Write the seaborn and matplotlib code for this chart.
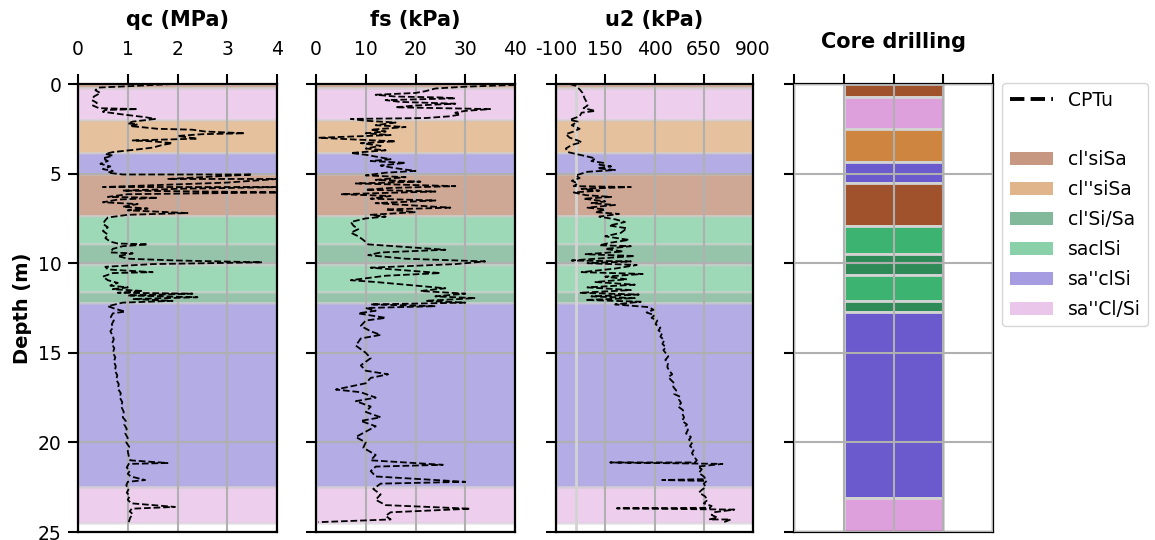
import matplotlib
matplotlib.use("Agg")
import matplotlib.pyplot as plt
from matplotlib.patches import Patch
from matplotlib.lines import Line2D
import seaborn as sns

sns.set_style("ticks")
plt.rcParams["font.family"] = ["DejaVu Sans"]
plt.rcParams["axes.axisbelow"] = "line"
plt.rcParams["axes.unicode_minus"] = False
for key in ["text.color", "axes.labelcolor", "xtick.color", "ytick.color",
            "xtick.labelcolor", "ytick.labelcolor"]:
    plt.rcParams[key] = "black"

# Soil classes and their colours
soil_names = ["cl'siSa", "cl''siSa", "cl'Si/Sa", "saclSi", "sa''clSi", "sa''Cl/Si"]
soil_colors = ["sienna", "peru", "seagreen", "mediumseagreen", "slateblue", "plum"]

# Layering interpreted from the CPTu profile (depths in m)
cpt_layer_top = [0.0, 0.2, 2.0, 3.85, 5.0, 7.35, 8.95, 10.1, 11.6, 12.2, 22.5]
cpt_layer_bottom = [0.2, 2.0, 3.85, 5.0, 7.35, 8.95, 10.1, 11.6, 12.2, 22.5, 24.5]
cpt_layer_soil = [0, 5, 1, 4, 0, 3, 2, 3, 2, 4, 5]

# Layering logged from the core drilling (depths in m)
core_layer_top = [0.0, 0.7, 2.5, 4.37, 5.55, 7.9, 9.48, 10.65, 12.1, 12.75, 23.08]
core_layer_bottom = [0.7, 2.5, 4.37, 5.55, 7.9, 9.48, 10.65, 12.1, 12.75, 23.08, 25.0]
core_layer_soil = [0, 5, 1, 4, 0, 3, 2, 3, 2, 4, 5]

# CPTu cone resistance qc (MPa) versus depth (m)
qc_depth = [0.0, 0.1, 0.2, 0.35, 0.5, 0.7, 0.9, 1.05, 1.2, 1.35, 1.4, 1.45, 1.55, 1.7, 1.85,
            1.95, 2.1, 2.2, 2.25, 2.35, 2.4, 2.5, 2.55, 2.65, 2.75, 2.8, 2.9, 3.05, 3.15, 3.2,
            3.3, 3.4, 3.55, 3.65, 3.8, 3.9, 4.0, 4.15, 4.3, 4.45, 4.6, 4.75, 4.85, 4.95, 5.05,
            5.05, 5.2, 5.3, 5.3, 5.5, 5.75, 5.75, 5.85, 5.95, 6.05, 6.15, 6.3, 6.35, 6.45, 6.6,
            6.7, 6.85, 6.95, 7.05, 7.2, 7.3, 7.45, 7.6, 7.8, 8.0, 8.2, 8.4, 8.6, 8.8, 8.9,
            8.95, 9.05, 9.2, 9.4, 9.45, 9.6, 9.75, 9.85, 9.95, 10.05, 10.2, 10.35, 10.5, 10.55,
            10.75, 10.95, 11.1, 11.25, 11.35, 11.45, 11.55, 11.65, 11.7, 11.8, 11.9, 12.0, 12.1,
            12.2, 12.4, 12.55, 12.7, 12.8,
            13.0, 13.2, 13.4, 13.6, 13.8, 14.0, 14.25, 14.5,
            14.75, 15.0, 15.25, 15.5, 15.75, 16.0, 16.25, 16.5, 16.75, 17.0, 17.25, 17.5,
            17.75, 18.0, 18.3, 18.6, 18.8, 19.0, 19.25, 19.5, 19.75, 20.0, 20.25, 20.5, 20.75,
            21.0, 21.15, 21.2, 21.4, 21.6, 21.75, 21.9, 22.1, 22.2, 22.4, 22.6, 22.8, 23.0,
            23.2, 23.4, 23.6, 23.7, 23.85, 24.0, 24.2, 24.45]
qc_value = [1.9, 1.2, 0.4, 0.35, 0.45, 0.32, 0.28, 0.38, 0.3, 0.42, 1.2, 0.55, 0.5, 0.9, 1.35,
            1.55, 1.1, 1.0, 1.2, 1.05, 1.25, 1.6, 2.3, 2.55, 3.35, 2.5, 2.0, 2.4, 1.1, 1.5,
            1.9, 1.7, 1.5, 1.2, 0.7, 0.55, 0.7, 0.5, 0.6, 0.45, 0.65, 0.5, 0.7, 0.6, 0.9,
            3.5, 2.5, 1.8, 4.0, 3.0, 0.5, 4.1, 2.0, 0.9, 4.1, 1.0, 0.6, 1.6, 0.8, 0.5,
            1.2, 0.9, 1.4, 1.0, 2.2, 1.0, 0.6, 0.55, 0.5, 0.6, 0.5, 0.6, 0.55, 0.65, 0.8,
            1.4, 0.9, 0.7, 0.65, 1.1, 0.8, 1.0, 2.0, 3.7, 1.5, 0.55, 0.6, 1.5, 0.7,
            0.5, 0.6, 0.8, 0.65, 1.0, 0.7, 1.3, 0.8, 2.3, 1.0, 2.4, 1.1, 1.9,
            0.9, 0.6, 0.75, 0.95, 0.7,
            0.66, 0.72, 0.68, 0.7, 0.65, 0.69, 0.72, 0.68,
            0.73, 0.7, 0.75, 0.72, 0.76, 0.74, 0.79, 0.77, 0.82, 0.8, 0.86, 0.84,
            0.89, 0.87, 0.92, 0.9, 0.96, 0.93, 0.98, 0.95, 1.0, 0.97, 1.03, 1.0, 1.02,
            1.05, 1.8, 1.02, 0.98, 1.04, 1.0, 1.06, 1.35, 1.0, 0.97, 1.02, 0.98, 1.04,
            1.0, 1.07, 1.95, 1.08, 1.04, 1.1, 1.05, 1.02]

# CPTu sleeve friction fs (kPa) versus depth (m)
fs_depth = [0.05, 0.15, 0.25, 0.4, 0.5, 0.6, 0.7, 0.75, 0.8, 0.9, 1.0, 1.1, 1.2, 1.3, 1.4,
            1.5, 1.6, 1.7, 1.8, 1.9, 1.95, 2.05, 2.15, 2.3, 2.4, 2.55, 2.65, 2.75, 2.85, 3.0,
            3.1, 3.2, 3.3, 3.45, 3.6, 3.7, 3.85, 3.95, 4.05, 4.2, 4.3, 4.4, 4.55, 4.7, 4.85,
            4.95, 5.1, 5.2, 5.35, 5.45, 5.55, 5.7, 5.8, 5.9, 6.0, 6.15, 6.25, 6.4, 6.5, 6.65,
            6.9, 7.0, 7.15, 7.3, 7.4, 7.5, 7.7, 7.9, 8.1, 8.3, 8.5, 8.7, 8.95, 9.25, 9.4,
            9.55, 9.75, 9.9, 10.05, 10.25, 10.55, 10.7, 10.95, 11.05, 11.2, 11.4, 11.55, 11.7,
            11.85, 11.95, 12.1, 12.2, 12.3, 12.4, 12.5, 12.65, 12.8, 13.05, 13.2, 13.5, 13.8,
            14.0, 14.2, 14.6, 15.0, 15.3, 15.7, 16.0, 16.2, 16.4, 16.7, 17.05, 17.2, 17.5,
            17.7, 18.0, 18.3, 18.6, 18.8, 19.1, 19.4, 19.7, 20.0, 20.3, 20.7, 21.0, 21.25,
            21.35, 21.6, 21.9, 22.2, 22.3, 22.6, 22.9, 23.2, 23.5, 23.7, 23.9, 24.1, 24.3, 24.45]
fs_value = [40, 30, 24, 22, 20, 12, 16, 25, 28, 14, 17, 28, 20, 16, 35,
            30, 28, 29, 27, 22, 7, 10, 16, 12, 18, 11, 14, 10, 15, 0.5,
            8, 16, 9, 13, 10, 14, 7, 10, 12, 15, 11, 18, 13, 16, 20,
            14, 10, 18, 12, 21, 8, 28, 15, 10, 24, 5, 15, 11, 24, 12,
            27, 14, 20, 11, 14, 10, 7, 7.5, 8.5, 7, 8.5, 9.5, 10.5, 26, 13,
            10.5, 18, 34, 28, 11, 25, 14, 7, 12, 18, 26, 21, 30,
            24, 32, 22, 30, 11, 24, 10, 12, 8.5, 14, 10, 9, 11,
            13, 9, 8, 10, 11, 9, 10, 14.5, 11, 10, 4, 9, 12,
            8, 11, 10, 13, 9, 12, 10, 8, 10, 9.5, 12, 11, 25.5,
            12, 11, 12, 30, 13, 11.5, 13, 12, 14, 31, 15, 14, 15, 0.5]

# CPTu pore pressure u2 (kPa) versus depth (m)
u2_depth = [0.0, 0.1, 0.3, 0.5, 0.8, 1.0, 1.2, 1.35, 1.5, 1.6, 1.8, 2.0, 2.1, 2.3, 2.5,
            2.65, 2.8, 3.0, 3.15, 3.25, 3.4, 3.6, 3.8, 3.95, 4.05, 4.15, 4.3, 4.4, 4.5, 4.6,
            4.7, 4.8, 4.9, 5.1, 5.25, 5.4, 5.55, 5.7, 5.75, 5.85, 5.95, 6.05, 6.2, 6.3, 6.4,
            6.55, 6.65, 6.75, 6.9, 7.0, 7.15, 7.25, 7.4, 7.55, 7.7, 7.9, 8.05, 8.3, 8.5, 8.7,
            8.85, 9.0, 9.05, 9.2, 9.35, 9.5, 9.6, 9.75, 9.85, 9.9, 10.0, 10.1, 10.3, 10.5,
            10.6, 10.75, 10.9, 11.05, 11.2, 11.35, 11.5, 11.65, 11.75, 11.85, 11.95, 12.05,
            12.15, 12.3, 12.45, 12.6, 12.75, 12.9, 13.05, 13.2, 13.4, 13.6, 13.75, 13.9,
            14.1, 14.3, 14.5, 14.7, 14.85, 15.0, 15.2, 15.4, 15.6, 15.8, 16.0, 16.2, 16.35,
            16.5, 16.7, 16.9, 17.1, 17.3, 17.45, 17.6, 17.8, 18.0, 18.2, 18.4, 18.6, 18.8,
            19.0, 19.1, 19.3, 19.5, 19.7, 19.85, 20.0, 20.2, 20.4, 20.6, 20.8, 21.0, 21.12,
            21.12, 21.2, 21.35, 21.5, 21.7, 21.9, 22.05, 22.1, 22.15, 22.3, 22.5, 22.65, 22.8,
            23.0, 23.2, 23.4, 23.55, 23.65, 23.68, 23.75, 23.9, 24.05, 24.2, 24.3, 24.3, 24.45]
u2_value = [-30, 0, 20, 35, 45, 55, 60, 40, 100, 30, 20, -30, 10, -20, 20,
            -10, -50, -30, 10, 30, -20, -50, -40, 20, 60, 100, 80, 140, 120, 180,
            110, 200, 60, 0, 20, -20, 10, -10, 280, 30, 120, -10, 50, 180, 40,
            150, 80, 200, 60, 150, 100, 220, 120, 200, 250, 170, 260, 230, 150, 270,
            180, 120, 280, 150, 240, 50, 300, 100, -20, 280, 60, 310, 200, 30,
            340, 150, 260, 100, 300, 60, 280, 20, 320, 80, 300, 50,
            330, 200, 370, 395, 360, 400, 385, 414, 405, 430, 420, 439,
            430, 450, 440, 458, 445, 456, 470, 455, 468, 465, 475, 490, 470,
            482, 500, 495, 510, 500, 530, 524, 535, 520, 545, 541, 550, 540,
            565, 558, 570, 560, 585, 575, 592, 580, 600, 590, 601, 615, 605,
            175, 745, 620, 640, 625, 650, 660, 439, 665, 650, 660, 640, 626,
            655, 670, 650, 690, 680, 209, 805, 700, 690, 720, 677, 787, 753]

qc_ticks = [0, 1, 2, 3, 4]
fs_ticks = [0, 10, 20, 30, 40]
u2_ticks = [-100, 150, 400, 650, 900]
depth_ticks = [0, 5, 10, 15, 20, 25]

FS_TICK = 13.5
FS_TITLE = 15
W, H = 1155, 540
fig = plt.figure(figsize=(W / 100, H / 100), dpi=100)


def rect(left, width):
    return [left / W, 8 / H, width / W, 448 / H]


ax_qc = fig.add_axes(rect(78, 199))
ax_fs = fig.add_axes(rect(316, 199))
ax_u2 = fig.add_axes(rect(556, 197))
ax_core = fig.add_axes(rect(794, 199))
axes = [ax_qc, ax_fs, ax_u2, ax_core]

profiles = [
    (ax_qc, qc_value, qc_depth, "qc (MPa)", (0, 4), qc_ticks),
    (ax_fs, fs_value, fs_depth, "fs (kPa)", (0, 40), fs_ticks),
    (ax_u2, u2_value, u2_depth, "u2 (kPa)", (-100, 900), u2_ticks),
]

for ax, vals, dep, title, lim, ticks in profiles:
    for top, bot, s in zip(cpt_layer_top, cpt_layer_bottom, cpt_layer_soil):
        ax.axhspan(top, bot, facecolor=soil_colors[s], edgecolor="lightgrey",
                   lw=2, alpha=0.5, zorder=1)
    sns.lineplot(x=vals, y=dep, sort=False, estimator=None, ax=ax,
                 color="black", lw=1.3, linestyle="--", zorder=3)
    ax.set_xlim(*lim)
    ax.set_xticks(ticks)
    ax.set_title(title, fontsize=FS_TITLE, fontweight="bold", pad=10)

ax_u2.axvline(0, color="lightgrey", lw=2, zorder=1.6)

# Core log column
core_heights = [b - t for t, b in zip(core_layer_top, core_layer_bottom)]
ax_core.bar([2] * len(core_layer_top), core_heights, bottom=core_layer_top, width=2,
            color=[soil_colors[s] for s in core_layer_soil], edgecolor="lightgrey", lw=2,
            zorder=1)
ax_core.set_xlim(0, 4)
ax_core.set_xticks(qc_ticks)
ax_core.set_xticklabels([])
ax_core.set_axisbelow(False)
ax_core.set_title("Core drilling", fontsize=FS_TITLE, fontweight="bold", pad=26)

for i, ax in enumerate(axes):
    ax.set_ylim(25, 0)
    ax.set_yticks(depth_ticks)
    ax.xaxis.tick_top()
    ax.grid(True, color="#b0b0b0", lw=1.5)
    ax.tick_params(axis="both", direction="out", length=7, width=1.5, color="black",
                   labelsize=FS_TICK)
    ax.tick_params(axis="x", pad=11)
    ax.tick_params(axis="y", pad=5)
    for sp in ax.spines.values():
        sp.set_color("black")
        sp.set_linewidth(1.6)
    ax.set_xlabel("")
    if i == 0:
        ax.set_ylabel("Depth (m)", fontsize=14, fontweight="bold")
    else:
        ax.set_yticklabels([])
        ax.set_ylabel("")

handles = [Line2D([], [], color="black", ls="--", lw=2.8),
           Line2D([], [], color="white", lw=0)]
labels = ["CPTu", " "]
for name, col in zip(soil_names, soil_colors):
    handles.append(Patch(facecolor=col, edgecolor="none", alpha=0.6))
    labels.append(name)
fig.legend(handles, labels, loc="upper left", bbox_to_anchor=(1002 / W, 1 - 83 / H),
           fontsize=13.5, frameon=True, edgecolor="#cccccc", handlelength=2.3,
           borderpad=0.4, labelspacing=0.58, handletextpad=0.8, borderaxespad=0.0)

fig.savefig("out.png", dpi=100)
